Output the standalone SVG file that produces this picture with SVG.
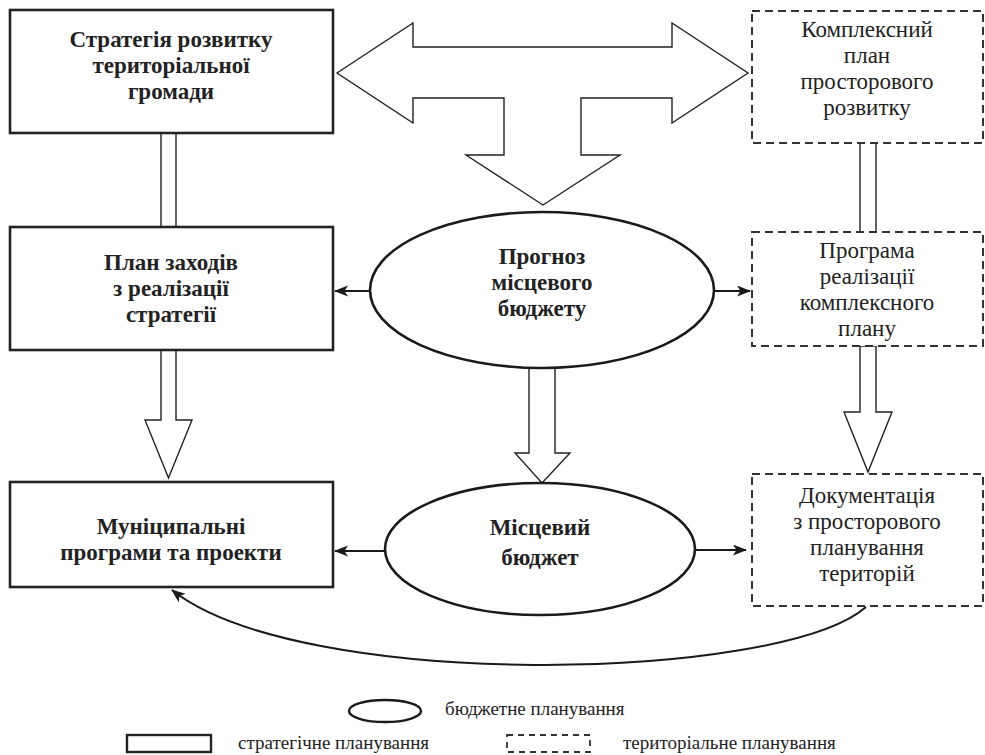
<svg xmlns="http://www.w3.org/2000/svg" width="985" height="755" viewBox="0 0 985 755">
<defs>
<style>
.strat{fill:#fff;stroke:#222;stroke-width:2.6}
.terr{fill:#fff;stroke:#333;stroke-width:2;stroke-dasharray:8,5}
.budg{fill:#fff;stroke:#1a1a1a;stroke-width:2.6}
.blk{fill:#fff;stroke:#222;stroke-width:1.4;stroke-linejoin:miter}
.ln{fill:none;stroke:#222;stroke-width:1.4}
.arr{fill:none;stroke:#1a1a1a;stroke-width:2;marker-end:url(#ah)}
.tb{font-weight:bold;font-size:23px;fill:#222;text-anchor:middle}
.tr{font-size:23px;fill:#222;text-anchor:middle}
.tl{font-size:19px;fill:#222}
</style>
<marker id="ah" markerUnits="userSpaceOnUse" markerWidth="14" markerHeight="12" refX="13" refY="5.5" orient="auto">
<path d="M0,0 L14,5.5 L0,11 L3.5,5.5 Z" fill="#1a1a1a"/>
</marker>
</defs>

<g id="connectors">
<path id="big-arrow" class="blk" d="M337,73 L413,23 L413,47 L672,47 L672,23 L748,73 L672,123 L672,98 L581,98 L581,155 L620,155 L543,205 L466,155 L504,155 L504,98 L413,98 L413,123 Z"/>
<line class="ln" x1="161" y1="133" x2="161" y2="227"/>
<line class="ln" x1="176" y1="133" x2="176" y2="227"/>
<line class="ln" x1="860" y1="143" x2="860" y2="232"/>
<line class="ln" x1="876" y1="143" x2="876" y2="232"/>
<polygon class="blk" points="161,350 161,420 145,420 168.5,478 192,420 176,420 176,350"/>
<polygon class="blk" points="529,360 529,453 515,453 542,483 570,453 555,453 555,360"/>
<polygon class="blk" points="860,346 860,412 844,412 868,472 892,412 876,412 876,346"/>
<line class="arr" x1="373" y1="291" x2="335" y2="291"/>
<line class="arr" x1="711" y1="291" x2="750" y2="291"/>
<line class="arr" x1="386" y1="551" x2="335" y2="551"/>
<line class="arr" x1="694" y1="550" x2="746" y2="550"/>
<path class="arr" d="M866,607 C780,682 300,692 172,590"/>
</g>

<g id="node-strategy">
<rect class="strat" x="10" y="10" width="323" height="123"/>
<text class="tb" font-family="Liberation Serif" x="171" y="47">Стратегія розвитку</text>
<text class="tb" font-family="Liberation Serif" x="171" y="73">територіальної</text>
<text class="tb" font-family="Liberation Serif" x="171" y="99">громади</text>
</g>

<g id="node-plan">
<rect class="strat" x="10" y="227" width="323" height="123"/>
<text class="tb" font-family="Liberation Serif" x="171" y="270">План заходів</text>
<text class="tb" font-family="Liberation Serif" x="171" y="296">з реалізації</text>
<text class="tb" font-family="Liberation Serif" x="171" y="322">стратегії</text>
</g>

<g id="node-municipal">
<rect class="strat" x="10" y="482" width="323" height="105"/>
<text class="tb" font-family="Liberation Serif" x="171" y="534">Муніципальні</text>
<text class="tb" font-family="Liberation Serif" x="171" y="560">програми та проекти</text>
</g>

<g id="node-forecast">
<ellipse class="budg" cx="542" cy="290" rx="172" ry="78"/>
<text class="tb" font-family="Liberation Serif" x="542" y="264">Прогноз</text>
<text class="tb" font-family="Liberation Serif" x="542" y="290">місцевого</text>
<text class="tb" font-family="Liberation Serif" x="542" y="316">бюджету</text>
</g>

<g id="node-budget">
<ellipse class="budg" cx="540" cy="549" rx="155" ry="66"/>
<text class="tb" font-family="Liberation Serif" x="540" y="535">Місцевий</text>
<text class="tb" font-family="Liberation Serif" x="540" y="565">бюджет</text>
</g>

<g id="node-complex">
<rect class="terr" x="752" y="11" width="231" height="132"/>
<text class="tr" font-family="Liberation Serif" x="867" y="37">Комплексний</text>
<text class="tr" font-family="Liberation Serif" x="867" y="63">план</text>
<text class="tr" font-family="Liberation Serif" x="867" y="89">просторового</text>
<text class="tr" font-family="Liberation Serif" x="867" y="115">розвитку</text>
</g>

<g id="node-program">
<rect class="terr" x="752" y="232" width="231" height="114"/>
<text class="tr" font-family="Liberation Serif" x="867" y="258">Програма</text>
<text class="tr" font-family="Liberation Serif" x="867" y="284">реалізації</text>
<text class="tr" font-family="Liberation Serif" x="867" y="310">комплексного</text>
<text class="tr" font-family="Liberation Serif" x="867" y="336">плану</text>
</g>

<g id="node-docs">
<rect class="terr" x="752" y="474" width="231" height="132"/>
<text class="tr" font-family="Liberation Serif" x="867" y="503">Документація</text>
<text class="tr" font-family="Liberation Serif" x="867" y="529">з просторового</text>
<text class="tr" font-family="Liberation Serif" x="867" y="555">планування</text>
<text class="tr" font-family="Liberation Serif" x="867" y="581">територій</text>
</g>

<g id="legend">
<ellipse cx="385" cy="711" rx="36" ry="11" fill="#fff" stroke="#1a1a1a" stroke-width="2.4"/>
<text class="tl" font-family="Liberation Serif" x="445" y="715">бюджетне планування</text>
<rect x="127" y="735" width="84" height="17" fill="#fff" stroke="#222" stroke-width="2.4"/>
<text class="tl" font-family="Liberation Serif" x="238" y="749">стратегічне планування</text>
<rect x="507" y="735" width="83" height="17" fill="#fff" stroke="#333" stroke-width="1.8" stroke-dasharray="6,5"/>
<text class="tl" font-family="Liberation Serif" x="623" y="749">територіальне планування</text>
</g>
</svg>
